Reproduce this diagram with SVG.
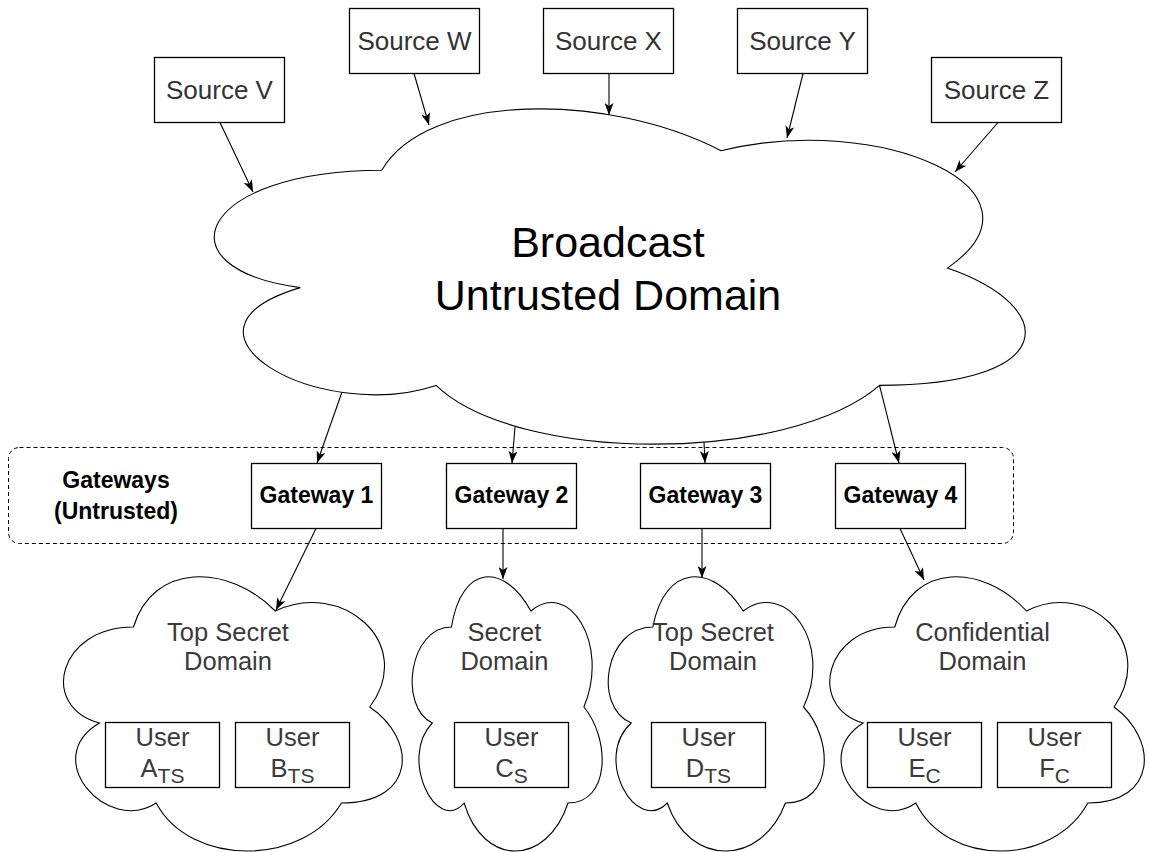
<svg xmlns="http://www.w3.org/2000/svg" width="1149" height="852" viewBox="0 0 1149 852">
  <defs>
    <style>
      .box { fill: #ffffff; stroke: #000000; stroke-width: 1.3; }
      .cloud { fill: #ffffff; stroke: #000000; stroke-width: 1.1; stroke-linejoin: miter; }
      .edge { fill: none; stroke: #000000; stroke-width: 1.1; }
      .src { font-family: "Liberation Sans", Arial, sans-serif; font-size: 26px; fill: #333333; text-anchor: middle; }
      .dom { font-family: "Liberation Sans", Arial, sans-serif; font-size: 25.5px; fill: #3a3a3a; text-anchor: middle; }
      .big { font-family: "Liberation Sans", Arial, sans-serif; font-size: 43px; fill: #000000; text-anchor: middle; }
      .gw { font-family: "Liberation Sans", Arial, sans-serif; font-size: 23px; font-weight: bold; fill: #000000; text-anchor: middle; }
      .sub { font-size: 21px; }
      .group { fill: none; stroke: #000000; stroke-width: 1; stroke-dasharray: 4 3; }
    </style>
    <marker id="arrow" viewBox="0 0 12 9" refX="12" refY="4.5" markerWidth="12" markerHeight="9" markerUnits="userSpaceOnUse" orient="auto">
      <path d="M0,0 L12,4.5 L0,9 L3,4.5 Z" fill="#000000"/>
    </marker>
  </defs>

  <rect width="1149" height="852" fill="#ffffff"/>

  <!-- gateway container -->
  <g id="gateways-group">
    <rect class="group" x="8.5" y="447.5" width="1005" height="96" rx="11" ry="11"/>
    <text class="gw" x="116" y="488">Gateways</text>
    <text class="gw" x="116" y="519">(Untrusted)</text>
  </g>

  <!-- central broadcast cloud -->
  <g id="broadcast-domain">
    <path class="cloud" d="M381.75,170.2 C200.75,170.2 155.5,268.1 300.3,287.6 C155.5,330.7 318.4,424.6 436.05,385.4 C517.5,463.7 789,463.7 879.5,385.4 C1060.5,385.4 1060.5,307.2 947.4,268.1 C1060.5,189.8 879.5,111.5 721.1,150.7 C608,92 427,92 381.75,170.2 Z"/>
    <text class="big" x="608" y="257">Broadcast</text>
    <text class="big" x="608" y="310">Untrusted Domain</text>
  </g>

  <!-- sources -->
  <g id="source-v">
    <rect class="box" x="154.5" y="57.5" width="130" height="65"/>
    <text class="src" x="219.5" y="99">Source V</text>
  </g>
  <g id="source-w">
    <rect class="box" x="349.5" y="8.5" width="130" height="65"/>
    <text class="src" x="414.5" y="50">Source W</text>
  </g>
  <g id="source-x">
    <rect class="box" x="543.5" y="8.5" width="130" height="65"/>
    <text class="src" x="608.5" y="50">Source X</text>
  </g>
  <g id="source-y">
    <rect class="box" x="737.5" y="8.5" width="130" height="65"/>
    <text class="src" x="802.5" y="50">Source Y</text>
  </g>
  <g id="source-z">
    <rect class="box" x="931.5" y="57.5" width="130" height="65"/>
    <text class="src" x="996.5" y="99">Source Z</text>
  </g>

  <!-- gateways -->
  <g id="gateway-1">
    <rect class="box" x="251.5" y="463.5" width="130" height="65"/>
    <text class="gw" x="316.5" y="503">Gateway 1</text>
  </g>
  <g id="gateway-2">
    <rect class="box" x="446.5" y="463.5" width="130" height="65"/>
    <text class="gw" x="511.5" y="503">Gateway 2</text>
  </g>
  <g id="gateway-3">
    <rect class="box" x="640.5" y="463.5" width="130" height="65"/>
    <text class="gw" x="705.5" y="503">Gateway 3</text>
  </g>
  <g id="gateway-4">
    <rect class="box" x="835.5" y="463.5" width="130" height="65"/>
    <text class="gw" x="900.5" y="503">Gateway 4</text>
  </g>

  <!-- classified domains -->
  <g id="top-secret-domain-1">
    <path class="cloud" d="M133.5,627 C57.9,627 39,707 99.5,723 C39,758.2 107,835 156.2,803 C190.2,867 303.6,867 341.4,803 C417,803 417,739 369.75,707 C417,643 341.4,579 275.25,611 C228,563 152.4,563 133.5,627 Z"/>
    <text class="dom" x="228" y="641">Top Secret</text>
    <text class="dom" x="228" y="670">Domain</text>
  </g>
  <g id="secret-domain">
    <path class="cloud" d="M451.4,627 C409,627 398.4,707 432.3,723 C398.4,758.2 436.6,835 464.1,803 C483.2,867 546.8,867 568,803 C610.4,803 610.4,739 583.9,707 C610.4,643 568,579 530.9,611 C504.4,563 462,563 451.4,627 Z"/>
    <text class="dom" x="504.4" y="641">Secret</text>
    <text class="dom" x="504.4" y="670">Domain</text>
  </g>
  <g id="top-secret-domain-2">
    <path class="cloud" d="M652.85,627 C604.65,627 592.6,707 631.2,723 C592.6,758.2 636,835 667.3,803 C689,867 761.3,867 785.4,803 C833.6,803 833.6,739 803.5,707 C833.6,643 785.4,579 743.2,611 C713.1,563 664.9,563 652.85,627 Z"/>
    <text class="dom" x="713" y="641">Top Secret</text>
    <text class="dom" x="713" y="670">Domain</text>
  </g>
  <g id="confidential-domain">
    <path class="cloud" d="M894.75,627 C824.55,627 807,707 863.2,723 C807,758.2 870.2,835 915.8,803 C947.4,867 1052.7,867 1087.8,803 C1158,803 1158,739 1114.1,707 C1158,643 1087.8,579 1026.4,611 C982.5,563 912.3,563 894.75,627 Z"/>
    <text class="dom" x="982.5" y="641">Confidential</text>
    <text class="dom" x="982.5" y="670">Domain</text>
  </g>

  <!-- users -->
  <g id="user-a">
    <rect class="box" x="105.5" y="722.5" width="114" height="65"/>
    <text class="dom" x="162.5" y="746">User</text>
    <text class="dom" x="162.5" y="777">A<tspan class="sub" dy="6">TS</tspan></text>
  </g>
  <g id="user-b">
    <rect class="box" x="235.5" y="722.5" width="114" height="65"/>
    <text class="dom" x="292.5" y="746">User</text>
    <text class="dom" x="292.5" y="777">B<tspan class="sub" dy="6">TS</tspan></text>
  </g>
  <g id="user-c">
    <rect class="box" x="454.5" y="722.5" width="114" height="65"/>
    <text class="dom" x="511.5" y="746">User</text>
    <text class="dom" x="511.5" y="777">C<tspan class="sub" dy="6">S</tspan></text>
  </g>
  <g id="user-d">
    <rect class="box" x="651.5" y="722.5" width="114" height="65"/>
    <text class="dom" x="708.5" y="746">User</text>
    <text class="dom" x="708.5" y="777">D<tspan class="sub" dy="6">TS</tspan></text>
  </g>
  <g id="user-e">
    <rect class="box" x="867.5" y="722.5" width="114" height="65"/>
    <text class="dom" x="924.5" y="746">User</text>
    <text class="dom" x="924.5" y="777">E<tspan class="sub" dy="6">C</tspan></text>
  </g>
  <g id="user-f">
    <rect class="box" x="997.5" y="722.5" width="114" height="65"/>
    <text class="dom" x="1054.5" y="746">User</text>
    <text class="dom" x="1054.5" y="777">F<tspan class="sub" dy="6">C</tspan></text>
  </g>

  <!-- connectors -->
  <g id="connectors">
    <line class="edge" x1="220" y1="122.5" x2="253" y2="192" marker-end="url(#arrow)"/>
    <line class="edge" x1="414" y1="73.5" x2="429" y2="125" marker-end="url(#arrow)"/>
    <line class="edge" x1="609" y1="73.5" x2="609" y2="115" marker-end="url(#arrow)"/>
    <line class="edge" x1="803" y1="73.5" x2="787" y2="138" marker-end="url(#arrow)"/>
    <line class="edge" x1="998" y1="122.5" x2="955" y2="172" marker-end="url(#arrow)"/>

    <line class="edge" x1="342" y1="392" x2="317" y2="463" marker-end="url(#arrow)"/>
    <line class="edge" x1="515" y1="427" x2="512" y2="463" marker-end="url(#arrow)"/>
    <line class="edge" x1="704" y1="442" x2="705" y2="463" marker-end="url(#arrow)"/>
    <line class="edge" x1="879.5" y1="385.4" x2="899" y2="463" marker-end="url(#arrow)"/>

    <line class="edge" x1="316" y1="528.5" x2="276" y2="610" marker-end="url(#arrow)"/>
    <line class="edge" x1="503" y1="528.5" x2="503" y2="579" marker-end="url(#arrow)"/>
    <line class="edge" x1="702" y1="528.5" x2="702" y2="578" marker-end="url(#arrow)"/>
    <line class="edge" x1="900" y1="528.5" x2="924" y2="580" marker-end="url(#arrow)"/>
  </g>
</svg>
